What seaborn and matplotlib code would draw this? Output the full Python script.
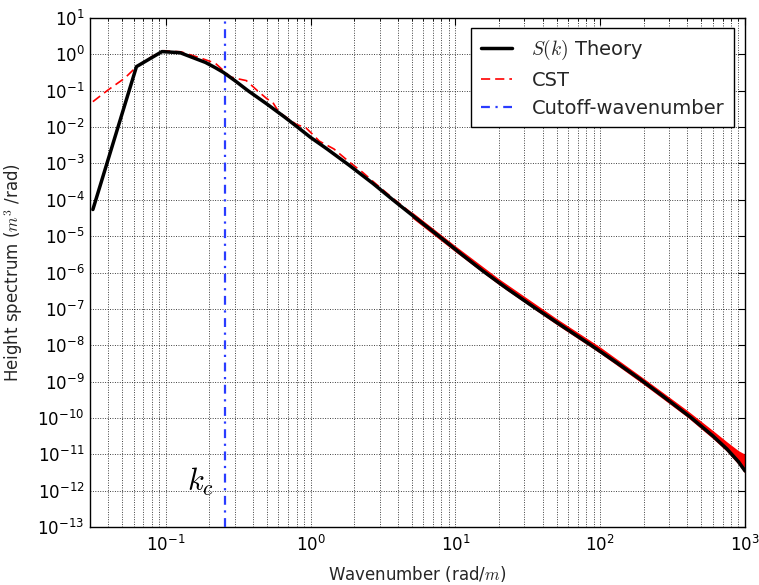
import matplotlib
matplotlib.use("Agg")
import matplotlib.pyplot as plt
import seaborn as sns
from matplotlib.ticker import LogLocator, NullLocator, LogFormatterMathtext

# ---------------- data ----------------
theory_k = [0.0314, 0.0628, 0.0942, 0.1257, 0.157, 0.188, 0.22, 0.25, 0.30, 0.37,
            0.5, 0.66, 0.8, 1.0, 1.3, 1.85, 2.7, 3.7, 5.3, 7.7, 11, 15.5, 23, 35,
            55, 85, 130, 189, 280, 424, 600, 750, 900, 1000]
theory_S = [5.4e-5, 0.46, 1.19, 1.11, 0.79, 0.60, 0.43, 0.32, 0.19, 0.1,
            0.043, 0.019, 0.0105, 5.2e-3, 2.5e-3, 8.9e-4, 2.8e-4, 1.0e-4, 3.2e-5,
            1.0e-5, 3.2e-6, 1.1e-6, 3.5e-7, 1.1e-7, 3.3e-8, 1.05e-8, 3.3e-9,
            1.15e-9, 3.6e-10, 1.02e-10, 3.2e-11, 1.4e-11, 6.3e-12, 3.5e-12]

cst_k = [0.0314, 0.04, 0.052, 0.063, 0.08, 0.097, 0.128, 0.176, 0.22, 0.25, 0.28,
         0.32, 0.36, 0.4, 0.43, 0.5, 0.55, 0.6, 0.64, 0.8, 0.93, 1.01, 1.15, 1.45,
         1.85, 2.3, 2.7, 3.7, 5.3, 7.7, 11, 15.5, 23, 35, 55, 85, 130, 189, 280,
         424, 600, 750, 900, 1000]
cst_S = [0.05, 0.105, 0.22, 0.46, 0.86, 1.26, 1.17, 0.78, 0.57, 0.36, 0.24,
         0.21, 0.19, 0.13, 0.1, 0.06, 0.047, 0.027, 0.022, 0.0118, 9.5e-3, 6.9e-3,
         4.1e-3, 2.5e-3, 1.1e-3, 5.6e-4, 3.2e-4, 1.1e-4, 3.5e-5, 1.1e-5, 3.5e-6,
         1.2e-6, 3.85e-7, 1.2e-7, 3.6e-8, 1.15e-8, 3.6e-9, 1.27e-9, 4.0e-10,
         1.15e-10, 3.8e-11, 1.8e-11, 9.5e-12, 7e-12]

# spread of the noisy CST estimate at high wavenumber
band_k = [5, 10, 20, 50, 100, 200, 400, 600, 750, 900, 1000]
band_hi = [4.7e-5, 5.4e-6, 6.7e-7, 5.4e-8, 8.9e-9, 1.22e-9, 1.6e-10, 4.5e-11,
           2.2e-11, 1.26e-11, 1.0e-11]
band_lo = [3.2e-5, 3.7e-6, 4.6e-7, 3.7e-8, 6.0e-9, 8.3e-10, 1.05e-10, 2.7e-11,
           1.2e-11, 5.3e-12, 3.0e-12]

cutoff_k = [0.255]
kc_label_pos = (0.14, 1e-12)

x_ticks = [0.1, 1, 10, 100, 1000]
y_ticks = [1e-13, 1e-12, 1e-11, 1e-10, 1e-9, 1e-8, 1e-7, 1e-6, 1e-5, 1e-4,
           1e-3, 1e-2, 1e-1, 1, 10]

# ---------------- style ----------------
sns.set_theme(style="white")
plt.rcParams["font.family"] = ["DejaVu Sans"]
plt.rcParams["mathtext.fontset"] = "cm"
plt.rcParams["axes.unicode_minus"] = False

fig = plt.figure(figsize=(7.59, 5.85), dpi=100)
ax = fig.add_axes([90 / 759, 58 / 585, 655 / 759, 509 / 585])
ax.set_xscale("log")
ax.set_yscale("log")

ax.fill_between(band_k, band_lo, band_hi, color="red", lw=0, zorder=2)
sns.lineplot(x=cst_k, y=cst_S, ax=ax, color="red", lw=1.2,
             linestyle=(0, (5.5, 3)), zorder=2.5, sort=False)
cst_line = ax.lines[-1]
sns.lineplot(x=theory_k, y=theory_S, ax=ax, color="black", lw=2.5, zorder=3, sort=False)
th_line = ax.lines[-1]
cut_line = ax.axvline(cutoff_k[0], color="#2a3cff", lw=1.6,
                      linestyle=(0, (4, 2.5, 1, 2.5)), zorder=2.8)

ax.set_xlim(0.03, 1000)
ax.set_ylim(1e-13, 10)

ax.set_xticks(x_ticks)
ax.xaxis.set_minor_locator(LogLocator(base=10, subs=[2, 3, 4, 5, 6, 7, 8, 9], numticks=50))
ax.set_yticks(y_ticks)
ax.yaxis.set_minor_locator(NullLocator())
ax.xaxis.set_major_formatter(LogFormatterMathtext())
ax.yaxis.set_major_formatter(LogFormatterMathtext())

ax.grid(True, which="both", color="black", lw=0.55, linestyle=(0, (1.2, 2.0)))
ax.tick_params(which="both", direction="in", top=True, right=True, colors="black",
               labelsize=12)
ax.tick_params(which="major", length=5, width=0.8)
ax.tick_params(which="minor", length=2.5, width=0.6)
ax.tick_params(axis="x", which="major", pad=6)
ax.tick_params(axis="y", which="major", pad=4)
for s in ax.spines.values():
    s.set_color("black")
    s.set_linewidth(1.0)
    s.set_visible(True)

ax.set_xlabel(r"Wavenumber (rad/$m$)", fontsize=12, labelpad=6)
ax.set_ylabel(r"Height spectrum ($m^3$ /rad)", fontsize=12, labelpad=9)

ax.text(kc_label_pos[0], kc_label_pos[1], r"$k_c$", fontsize=22, va="baseline",
        ha="left", color="black")

leg = ax.legend([th_line, cst_line, cut_line],
                [r"$S(k)$ Theory", "CST", "Cutoff-wavenumber"],
                loc="upper right", bbox_to_anchor=(0.983, 0.980), borderaxespad=0,
                fontsize=14, handlelength=1.6, handletextpad=1.0, borderpad=0.5,
                labelspacing=0.45, fancybox=False, framealpha=1, edgecolor="black")
leg.get_frame().set_linewidth(1.0)

fig.savefig("out.png", dpi=100)
